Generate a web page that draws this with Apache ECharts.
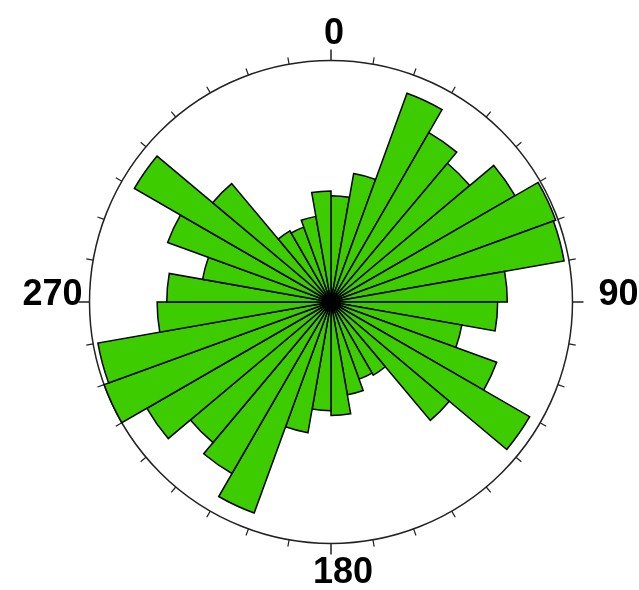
<!DOCTYPE html>
<html>
<head>
<meta charset="utf-8">
<script src="https://cdn.jsdelivr.net/npm/echarts@6/dist/echarts.min.js"></script>
<style>
  html, body { margin: 0; padding: 0; background: #fff; }
  #rose_chart { width: 639px; height: 590px; }
</style>
</head>
<body>
<div id="rose_chart"></div>
<script>
// 10도 간격 방위 구간 (0 = 북, 시계방향)
var bins = ['0-10', '10-20', '20-30', '30-40', '40-50', '50-60', '60-70', '70-80', '80-90',
            '90-100', '100-110', '110-120', '120-130', '130-140', '140-150', '150-160', '160-170', '170-180',
            '180-190', '190-200', '200-210', '210-220', '220-230', '230-240', '240-250', '250-260', '260-270',
            '270-280', '280-290', '290-300', '300-310', '310-320', '320-330', '330-340', '340-350', '350-360'];
// 구간별 빈도 (바깥 원 = 100)
var freq = [44, 54, 92, 81, 75, 88, 99, 98, 73,
            69, 55, 73, 95, 64, 35, 34, 39, 47,
            45, 55, 93, 82, 76, 88, 100, 98, 72,
            68, 54, 72, 94, 64, 34, 33, 36, 46];
var dirLabels = ['0', '90', '180', '270'];

function roseChart() {
    var rose_chart = document.getElementById('rose_chart');
    var rose_myChart = echarts.init(rose_chart);

    var labelFont = {
        fontSize: 36,
        fontWeight: 'bold',
        fontFamily: 'Liberation Sans',
        color: '#000'
    };

    option = {
        backgroundColor: '#fff',
        animation: false,
        polar: [
            { center: [331, 302], radius: 241.5 },
            { center: [331, 302], radius: 241.5 }
        ],
        angleAxis: [
            {
                polarIndex: 0,
                type: 'category',
                data: bins,
                startAngle: 90,
                clockwise: true,
                boundaryGap: true,
                axisLine: { show: false },
                axisTick: { show: false },
                axisLabel: { show: false },
                splitLine: { show: false }
            },
            {
                polarIndex: 1,
                type: 'value',
                min: 0,
                max: 360,
                interval: 90,
                startAngle: 90,
                clockwise: true,
                axisLine: {
                    show: true,
                    lineStyle: { color: '#222', width: 1.5 }
                },
                axisTick: {
                    show: true,
                    length: 11,
                    lineStyle: { color: '#222', width: 1.5 }
                },
                minorTick: {
                    show: true,
                    splitNumber: 9,
                    length: 7,
                    lineStyle: { color: '#222', width: 1.2 }
                },
                splitLine: { show: false },
                axisLabel: {
                    show: true,
                    margin: 7,
                    formatter: function (val) {
                        var idx = [0, 90, 180, 270].indexOf(val);
                        if (idx < 0) return '';
                        return '{d' + idx + '|' + dirLabels[idx] + '}';
                    },
                    rich: {
                        d0: Object.assign({ padding: [0, 0, 1, 6] }, labelFont),
                        d1: Object.assign({ padding: [0, 0, 14, 19] }, labelFont),
                        d2: Object.assign({ padding: [5, 0, 0, 24] }, labelFont),
                        d3: Object.assign({ padding: [0, 0, 14, 0] }, labelFont)
                    }
                }
            }
        ],
        radiusAxis: [
            {
                polarIndex: 0,
                type: 'value',
                min: 0,
                max: 100,
                axisLine: { show: false },
                axisTick: { show: false },
                axisLabel: { show: false },
                splitLine: { show: false }
            },
            {
                polarIndex: 1,
                type: 'value',
                min: 0,
                max: 100,
                axisLine: { show: false },
                axisTick: { show: false },
                axisLabel: { show: false },
                splitLine: { show: false }
            }
        ],
        series: [
            {
                name: 'freq',
                type: 'bar',
                coordinateSystem: 'polar',
                polarIndex: 0,
                data: freq,
                barCategoryGap: '0%',
                itemStyle: {
                    color: '#3dcc00',
                    borderColor: '#000',
                    borderWidth: 1.5
                }
            }
        ]
    };

    option && rose_myChart.setOption(option);
}

roseChart();
</script>
</body>
</html>
